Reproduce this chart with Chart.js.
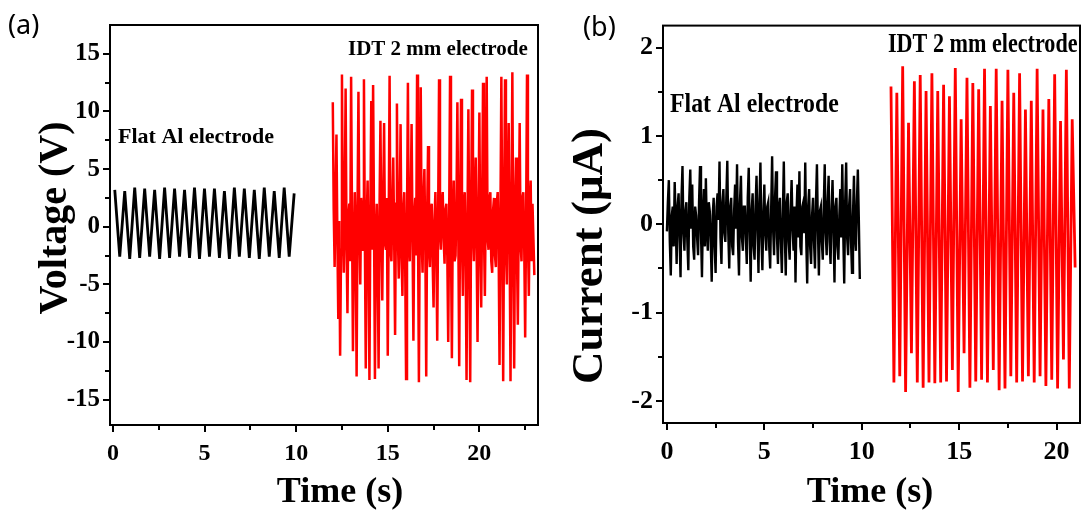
<!DOCTYPE html>
<html>
<head>
<meta charset="utf-8">
<script src="https://cdn.jsdelivr.net/npm/chart.js@4.4.0/dist/chart.umd.min.js"></script>
<style>
  html, body { margin: 0; padding: 0; background: #fff; }
  #wrap { position: relative; width: 1085px; height: 512px; overflow: hidden; }
  canvas { position: absolute; top: 0; }
  #chartA { left: 0; }
  #chartB { left: 550px; }
</style>
</head>
<body>
<div id="wrap">
  <canvas id="chartA" width="550" height="512"></canvas>
  <canvas id="chartB" width="535" height="512"></canvas>
</div>
<script>
// ---- panel (a): voltage ----
const flatVoltStart = 0.1, flatVoltStep = 0.272;
const flatVolt = [3.2, -2.6, 3.1, -2.8, 3.4, -2.7, 3.3, -2.6, 3.2, -2.8, 3.4, -2.7, 3.3, -2.6,
  3.2, -2.7, 3.4, -2.8, 3.3, -2.6, 3.3, -2.7, 3.1, -2.8, 3.4, -2.6, 3.3, -2.7, 3.2, -2.8,
  3.4, -2.6, 3.1, -2.7, 3.4, -2.6, 2.9];

const idtVoltStart = 12.0, idtVoltStep = 0.05;
const idtVolt = [
  10.8, 1.5, -3.5, 2.5, 8.0, -1.0, -8.0, 0.5, -11.2, -2.0, 13.2, 1.0, -4.0, 2.0, 12.0, -1.5, -7.5, 1.0, 2.0, -3.0,
  13.0, 0.5, -10.8, -2.5, 3.0, -1.0, -13.0, 1.5, 11.7, 0.0, -5.0, 2.5, 1.5, -2.0, 12.8, -1.0, -12.3, 0.5, 4.0, -2.5,
  -13.3, 1.0, 10.9, -2.0, 12.3, 0.5, -13.2, -1.0, 2.0, -3.0, -12.3, 1.5, 9.2, -0.5, -6.4, 2.0, 9.0, -1.5, -2.0, 2.5,
  -11.2, 0.0, 13.1, -2.0, -3.0, 1.5, 6.0, -1.0, -9.4, 2.0, 10.7, -0.5, -4.5, 1.0, 8.9, -2.5, -6.0, 1.5, 3.0, -3.0,
  -13.2, 0.5, 12.5, -1.5, -3.0, 2.0, 8.9, -0.5, -9.9, 1.0, 2.5, -2.5, 13.2, 0.0, -13.5, 1.5, 12.1, -1.0, -4.0, 2.5,
  5.0, -1.5, -13.0, 1.0, 7.0, -2.0, -3.5, 1.5, 2.0, -3.0, -7.0, 0.5, 3.0, -1.5, -9.9, 1.0, 12.8, -0.5, -2.0, 2.0,
  3.0, -1.0, -3.2, 1.5, 2.0, -2.5, -10.0, 0.5, 13.1, -1.5, -11.4, 1.0, 4.0, -3.0, -2.5, 2.0, 10.8, -0.5, -12.1, 1.5,
  11.1, -1.0, -6.0, 2.0, 3.0, -2.5, -13.3, 0.5, 10.2, -1.5, -13.5, 1.0, 11.9, -0.5, -3.0, 2.5, 6.0, -2.0, -10.0, 1.0,
  9.9, -1.5, -7.0, 1.5, 12.5, -0.5, -6.0, 2.0, 13.0, -1.0, -2.0, 2.5, 3.0, -3.0, -4.0, 1.5, 2.5, -2.5, -3.5, 2.0,
  3.0, -1.5, -12.0, 1.0, 13.0, -0.5, -13.4, 1.5, 12.8, -2.0, -5.0, 2.5, 9.0, -1.0, -13.4, 0.5, 13.4, -1.5, -12.3, 2.0,
  6.0, -2.0, -8.5, 1.0, 9.0, -1.5, -3.0, 2.5, 3.0, -2.0, -9.6, 0.5, 13.2, -1.0, -6.0, 2.0, 4.0, -3.0, 2.0, -1.0,
  -4.2];

const voltMajor = [-15, -10, -5, 0, 5, 10, 15];
const voltMinor = [-12.5, -7.5, -2.5, 2.5, 7.5, 12.5];
const timeMajorA = [0, 5, 10, 15, 20];
const timeMinorA = [2.5, 7.5, 12.5, 17.5, 22.5];

// ---- panel (b): current ----
const flatCurStart = 0.0, flatCurStep = 0.05;
const flatCur = [
  -0.08, 0.25, 0.50, -0.20, -0.58, 0.10, 0.20, -0.25, 0.48, 0.05, -0.45, 0.20, 0.35, -0.15, -0.60, 0.30, 0.66, -0.10, -0.30, 0.15,
  0.25, -0.20, -0.52, 0.30, 0.62, -0.05, 0.45, -0.25, -0.40, 0.20, 0.10, -0.15, -0.35, 0.25, 0.66, -0.10, -0.60, 0.15, 0.40, -0.25,
  0.52, -0.05, -0.30, 0.25, 0.15, -0.20, -0.65, 0.10, 0.30, -0.25, -0.55, 0.20, 0.35, 0.05, 0.71, -0.15, -0.45, 0.25, 0.40, -0.10,
  -0.20, 0.30, 0.72, -0.10, -0.50, 0.20, 0.30, -0.25, -0.35, 0.15, 0.45, -0.05, 0.68, -0.20, -0.58, 0.25, 0.55, -0.15, -0.30, 0.20,
  0.20, -0.15, -0.45, 0.30, 0.64, -0.10, -0.65, 0.15, 0.35, -0.25, -0.40, 0.20, 0.55, -0.05, -0.55, 0.25, 0.70, -0.15, -0.52, 0.10,
  0.45, -0.10, -0.30, 0.20, 0.25, -0.25, -0.50, 0.15, 0.77, -0.05, -0.35, 0.30, 0.60, -0.15, -0.45, 0.20, 0.30, -0.20, -0.55, 0.10,
  0.71, -0.10, -0.58, 0.25, 0.35, -0.20, -0.40, 0.15, 0.50, -0.05, -0.30, 0.20, -0.66, 0.10, 0.45, -0.15, 0.60, -0.25, -0.35, 0.20,
  0.25, -0.10, 0.70, -0.15, -0.67, 0.20, 0.40, -0.25, -0.45, 0.10, 0.30, -0.20, -0.50, 0.25, 0.68, -0.05, -0.58, 0.15, 0.20, -0.20,
  -0.40, 0.20, 0.68, -0.10, -0.35, 0.25, 0.55, -0.20, -0.45, 0.15, 0.50, -0.05, -0.66, 0.20, 0.30, -0.25, -0.40, 0.10, 0.40, -0.15,
  0.68, -0.10, -0.67, 0.25, 0.70, -0.15, -0.35, 0.20, 0.40, -0.20, -0.55, 0.10, 0.55, -0.15, -0.30, 0.25, 0.62, 0.05, -0.62];

const idtCurStart = 11.5, idtCurStep = 0.15;
const idtCur = [
  1.56, -1.79, 1.49, -1.72, 1.79, -1.90, 1.15, -1.46, 1.62, -1.79,
  1.69, -1.85, 1.51, -1.79, 1.71, -1.80, 1.51, -1.79, 1.58, -1.78,
  1.45, -1.65, 1.77, -1.90, 1.19, -1.46, 1.66, -1.85, 1.60, -1.78,
  1.53, -1.76, 1.76, -1.79, 1.34, -1.65, 1.76, -1.88, 1.40, -1.86,
  1.75, -1.72, 1.49, -1.79, 1.71, -1.78, 1.30, -1.72, 1.40, -1.79,
  1.76, -1.72, 1.30, -1.83, 1.42, -1.76, 1.70, -1.86, 1.17, -1.53,
  1.75, -1.86, 1.19, -0.49];

const curMajor = [-2, -1, 0, 1, 2];
const curMinor = [-1.5, -0.5, 0.5, 1.5];
const timeMajorB = [0, 5, 10, 15, 20];
const timeMinorB = [2.5, 7.5, 12.5, 17.5];

function toPoints(values, start, step) {
  return values.map((v, i) => ({ x: +(start + i * step).toFixed(3), y: v }));
}

const serif = 'Liberation Serif';

// frame, tick marks and free text
const framePlugin = {
  id: 'frame',
  afterDraw(chart, args, opts) {
    const { ctx, chartArea: a } = chart;
    const xs = chart.scales.x, ys = chart.scales.y;
    ctx.save();
    ctx.strokeStyle = '#000';
    ctx.lineWidth = 2;
    ctx.strokeRect(a.left, a.top, a.right - a.left, a.bottom - a.top);
    ctx.beginPath();
    xs.ticks.forEach(t => {
      const px = Math.round(xs.getPixelForValue(t.value));
      const len = opts.xMajor.includes(t.value) ? 7 : 5;
      ctx.moveTo(px, a.bottom);
      ctx.lineTo(px, a.bottom + len);
    });
    ys.ticks.forEach(t => {
      const py = Math.round(ys.getPixelForValue(t.value));
      const len = opts.yMajor.includes(t.value) ? 7 : 5;
      ctx.moveTo(a.left, py);
      ctx.lineTo(a.left - len, py);
    });
    ctx.stroke();
    ctx.fillStyle = '#000';
    opts.texts.forEach(t => {
      ctx.save();
      ctx.font = t.font;
      ctx.textAlign = t.align || 'left';
      ctx.textBaseline = t.baseline || 'alphabetic';
      ctx.translate(t.x, t.y);
      if (t.rotate) ctx.rotate(t.rotate);
      if (t.sx) ctx.scale(t.sx, 1);
      ctx.fillText(t.text, 0, 0);
      ctx.restore();
    });
    ctx.restore();
  }
};

function makeChart(id, cfg) {
  const tickFont = size => ({ family: serif, weight: 'bold', size: size });
  return new Chart(document.getElementById(id), {
    type: 'line',
    data: { datasets: cfg.datasets },
    options: {
      responsive: false,
      devicePixelRatio: 1,
      animation: false,
      layout: { padding: { top: 22, right: cfg.padRight, left: 0, bottom: 0 } },
      plugins: {
        legend: { display: false },
        tooltip: { enabled: false },
        frame: { xMajor: cfg.xMajor, yMajor: cfg.yMajor, texts: cfg.texts }
      },
      elements: { point: { radius: 0 }, line: { tension: 0 } },
      scales: {
        x: {
          type: 'linear', min: cfg.xMin, max: cfg.xMax,
          afterBuildTicks: s => { s.ticks = [...cfg.xMajor, ...cfg.xMinor].sort((p, q) => p - q).map(v => ({ value: v })); },
          afterFit: s => { s.height = cfg.xHeight; },
          grid: { display: false, drawTicks: false },
          border: { display: false },
          ticks: {
            autoSkip: false, maxRotation: 0, color: '#000', padding: 14,
            font: tickFont(cfg.xTickSize),
            callback: v => cfg.xMajor.includes(v) ? String(v) : ''
          }
        },
        y: {
          type: 'linear', min: cfg.yMin, max: cfg.yMax,
          afterBuildTicks: s => { s.ticks = [...cfg.yMajor, ...cfg.yMinor].sort((p, q) => p - q).map(v => ({ value: v })); },
          afterFit: s => { s.width = cfg.yWidth; },
          grid: { display: false, drawTicks: false },
          border: { display: false },
          ticks: {
            autoSkip: false, color: '#000', padding: 10,
            font: tickFont(cfg.yTickSize),
            callback: v => cfg.yMajor.includes(v) ? String(v) : ''
          }
        }
      }
    },
    plugins: [framePlugin]
  });
}

makeChart('chartA', {
  datasets: [
    { data: toPoints(flatVolt, flatVoltStart, flatVoltStep), borderColor: '#000000', borderWidth: 2.8 },
    { data: toPoints(idtVolt, idtVoltStart, idtVoltStep), borderColor: '#ff0000', borderWidth: 2.5 }
  ],
  xMin: -0.16, xMax: 23.2, yMin: -17.2, yMax: 17.5,
  xMajor: timeMajorA, xMinor: timeMinorA, yMajor: voltMajor, yMinor: voltMinor,
  xHeight: 87, yWidth: 110, padRight: 12, xTickSize: 24, yTickSize: 25,
  texts: [
    { text: '(a)', x: 8, y: 34, font: '27px "Noto Sans"' },
    { text: 'Flat Al electrode', x: 118, y: 143, font: 'bold 22px "Liberation Serif"' },
    { text: 'IDT 2 mm electrode', x: 348, y: 55, font: 'bold 21px "Liberation Serif"' },
    { text: 'Voltage (V)', x: 56, y: 218, font: 'bold 40px "Liberation Serif"', align: 'center', baseline: 'middle', rotate: -Math.PI / 2 },
    { text: 'Time (s)', x: 340, y: 502, font: 'bold 36px "Liberation Serif"', align: 'center' }
  ]
});

makeChart('chartB', {
  datasets: [
    { data: toPoints(flatCur, flatCurStart, flatCurStep), borderColor: '#000000', borderWidth: 2.4 },
    { data: toPoints(idtCur, idtCurStart, idtCurStep), borderColor: '#ff0000', borderWidth: 2.8 }
  ],
  xMin: -0.2, xMax: 21.2, yMin: -2.25, yMax: 2.25,
  xMajor: timeMajorB, xMinor: timeMinorB, yMajor: curMajor, yMinor: curMinor,
  xHeight: 89, yWidth: 113, padRight: 5, xTickSize: 26, yTickSize: 26,
  texts: [
    { text: '(b)', x: 33, y: 36, font: '27px "Noto Sans"' },
    { text: 'Flat Al electrode', x: 120, y: 112, font: 'bold 28px "Liberation Serif"', sx: 0.85 },
    { text: 'IDT 2 mm electrode', x: 338, y: 52, font: 'bold 27px "Liberation Serif"', sx: 0.82 },
    { text: 'Current (\u03bcA)', x: 40, y: 256, font: 'bold 45px "Liberation Serif"', align: 'center', baseline: 'middle', rotate: -Math.PI / 2 },
    { text: 'Time (s)', x: 320, y: 502, font: 'bold 36px "Liberation Serif"', align: 'center' }
  ]
});
</script>
</body>
</html>
